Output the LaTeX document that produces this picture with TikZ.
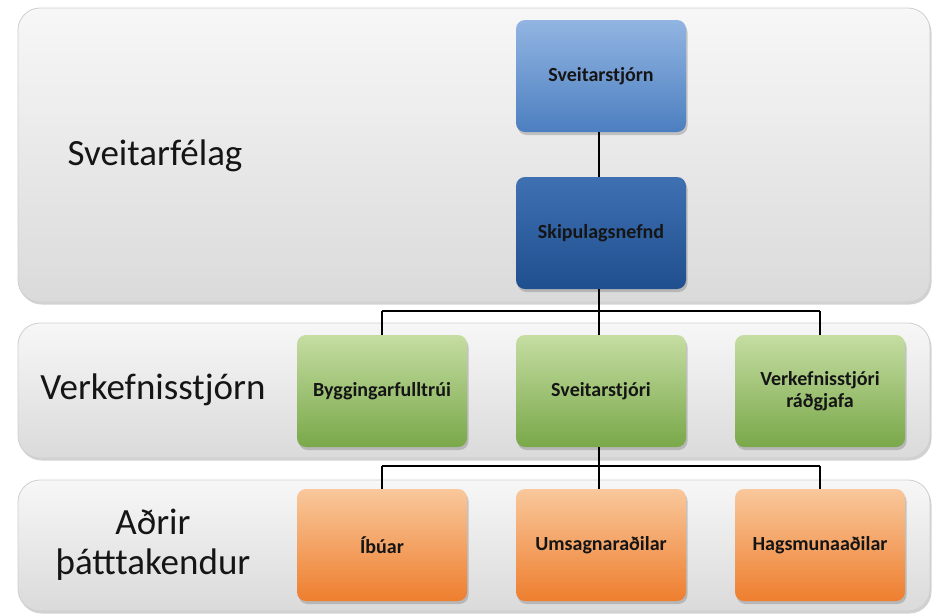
\documentclass[tikz,border=0pt]{standalone}
\usepackage{fontspec}
\setmainfont{Carlito}
\usetikzlibrary{shadows}
\definecolor{bandtop}{HTML}{F7F7F7}
\definecolor{bandbot}{HTML}{DADADA}
\definecolor{bandline}{HTML}{CFCFCF}
\definecolor{blueAtop}{HTML}{92B5E2}
\definecolor{blueAbot}{HTML}{4C7FC0}
\definecolor{blueBtop}{HTML}{3F70B2}
\definecolor{blueBbot}{HTML}{1F4F8E}
\definecolor{greentop}{HTML}{C5DDA2}
\definecolor{greenbot}{HTML}{79A849}
\definecolor{orangetop}{HTML}{F9C89C}
\definecolor{orangebot}{HTML}{EE7E2E}
\definecolor{boxtext}{HTML}{151515}
\begin{document}
\begin{tikzpicture}[x=1pt,y=-1pt,
  band/.style={draw=bandline, line width=0.8pt, rounded corners=22pt, top color=bandtop, bottom color=bandbot,
     drop shadow={opacity=0.35, shadow xshift=1.5pt, shadow yshift=-2.5pt}},
  orgbox/.style={rectangle, rounded corners=9pt, minimum width=170pt, minimum height=112pt, inner sep=2pt,
     font=\bfseries\fontsize{20}{22}\selectfont, text=boxtext, align=center,
     drop shadow={opacity=0.4, shadow xshift=1.5pt, shadow yshift=-3pt}},
  blueA/.style={orgbox, top color=blueAtop, bottom color=blueAbot},
  blueB/.style={orgbox, top color=blueBtop, bottom color=blueBbot},
  greenbox/.style={orgbox, top color=greentop, bottom color=greenbot},
  orangebox/.style={orgbox, top color=orangetop, bottom color=orangebot},
  bandlabel/.style={font=\fontsize{37}{40}\selectfont, text=boxtext, align=center},
  conn/.style={draw=black, line width=2pt}
]
\useasboundingbox (0,0) rectangle (937,614);
\fill[white] (0,0) rectangle (937,614);

% bands
\path[band] (18,8) rectangle (930,302);
\path[band] (18,323) rectangle (930,458);
\path[band] (18,480) rectangle (930,611);

% band labels
\node[bandlabel] (l1) at (155,156) {Sveitarfélag};
\node[bandlabel] (l2) at (153,390) {Verkefnisstjórn};
\node[bandlabel] (l3) at (153,545) {Aðrir\\þátttakendur};

% junction coordinates
\coordinate (j1) at (599,311);
\coordinate (j1l) at (382,311);
\coordinate (j1r) at (820,311);
\coordinate (j2) at (599,466);
\coordinate (j2l) at (382,466);
\coordinate (j2r) at (820,466);

% boxes
\node[blueA] (sveitarstjorn) at (601,76) {Sveitarstjórn};
\node[blueB] (skipulag) at (601,233) {Skipulagsnefnd};
\node[greenbox] (bygg) at (382,391) {Byggingarfulltrúi};
\node[greenbox] (sveitarstjori) at (601,391) {Sveitarstjóri};
\node[greenbox] (verk) at (820,391) {Verkefnisstjóri\\ráðgjafa};
\node[orangebox] (ibuar) at (382,545) {Íbúar};
\node[orangebox] (umsagn) at (601,545) {Umsagnaraðilar};
\node[orangebox] (hags) at (820,545) {Hagsmunaaðilar};

% connectors
\draw[conn] (sveitarstjorn.south -| 599,0) -- (skipulag.north -| 599,0);
\draw[conn] (skipulag.south -| j1) -- (j1);
\draw[conn] (j1l) -- (j1r);
\draw[conn] (j1l) -- (bygg.north -| j1l);
\draw[conn] (j1) -- (sveitarstjori.north -| j1);
\draw[conn] (j1r) -- (verk.north -| j1r);
\draw[conn] (sveitarstjori.south -| j2) -- (j2);
\draw[conn] (j2l) -- (j2r);
\draw[conn] (j2l) -- (ibuar.north -| j2l);
\draw[conn] (j2) -- (umsagn.north -| j2);
\draw[conn] (j2r) -- (hags.north -| j2r);
\end{tikzpicture}
\end{document}
